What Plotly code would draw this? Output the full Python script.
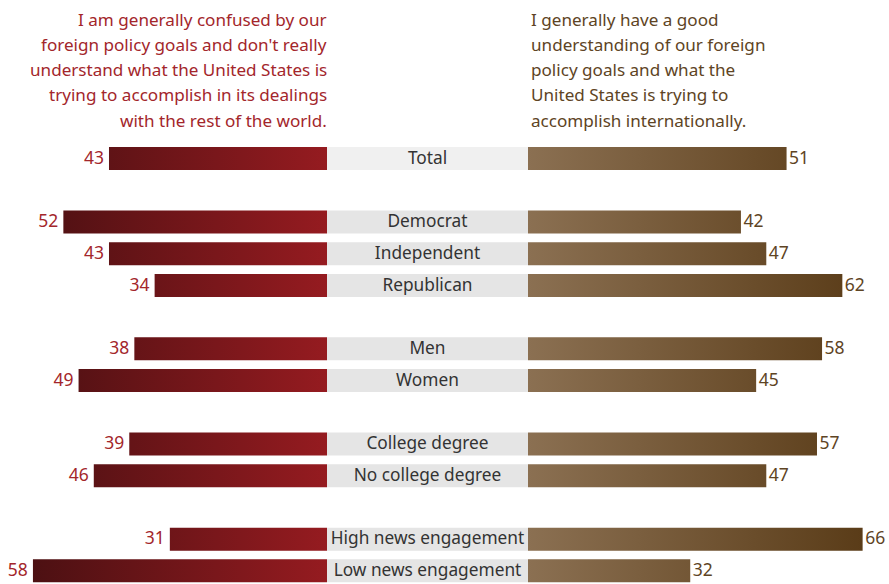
import plotly.graph_objects as go

categories = ["Total", "Democrat", "Independent", "Republican", "Men", "Women",
              "College degree", "No college degree", "High news engagement", "Low news engagement"]
confused = [43, 52, 43, 34, 38, 49, 39, 46, 31, 58]
understand = [51, 42, 47, 62, 58, 45, 57, 47, 66, 32]
row_pos = [0, 2, 3, 4, 6, 7, 9, 10, 12, 13]

left_title_lines = ["I am generally confused by our",
                    "foreign policy goals and don't really",
                    "understand what the United States is",
                    "trying to accomplish in its dealings",
                    "with the rest of the world."]
right_title_lines = ["I generally have a good",
                     "understanding of our foreign",
                     "policy goals and what the",
                     "United States is trying to",
                     "accomplish internationally."]

W, H = 889, 584
PXU = 5.07           # pixels per percentage point
CX = 427.5           # x of the centre of the label column
GAP = 201 / PXU      # width of centre label column in data units
PITCH = 31.72        # pixels per row
Y0 = 158.5           # y of first row centre
BH = 23 / PITCH      # bar height in row units
G2 = GAP / 2

RED = "#a3262b"
BROWN = "#5e4424"
FONT = "Noto Sans"

fig = go.Figure()


def polys(starts, ends, rows):
    xs, ys = [], []
    for x0, x1, r in zip(starts, ends, rows):
        xs += [x0, x1, x1, x0, x0, None]
        ys += [r - BH / 2, r - BH / 2, r + BH / 2, r + BH / 2, r - BH / 2, None]
    return xs, ys


# centre label boxes (Total lighter)
tx, ty = polys([-G2], [G2], row_pos[:1])
ox, oy = polys([-G2] * (len(categories) - 1), [G2] * (len(categories) - 1), row_pos[1:])
fig.add_trace(go.Scatter(x=tx, y=ty, fill="toself", mode="none", fillcolor="#f0f0f0",
                         hoverinfo="skip", showlegend=False))
fig.add_trace(go.Scatter(x=ox, y=oy, fill="toself", mode="none", fillcolor="#e5e5e5",
                         hoverinfo="skip", showlegend=False))

# left bars
lx, ly = polys([-G2 - v for v in confused], [-G2] * len(confused), row_pos)
fig.add_trace(go.Scatter(
    x=lx, y=ly, fill="toself", mode="none", showlegend=False, hoverinfo="skip",
    fillgradient=dict(type="horizontal", start=-G2 - 60, stop=-G2,
                      colorscale=[[0, "#4a1012"], [1, "#951b20"]])))
# right bars
rx, ry = polys([G2] * len(understand), [G2 + v for v in understand], row_pos)
fig.add_trace(go.Scatter(
    x=rx, y=ry, fill="toself", mode="none", showlegend=False, hoverinfo="skip",
    fillgradient=dict(type="horizontal", start=G2, stop=G2 + 66,
                      colorscale=[[0, "#8b7052"], [1, "#5a3c18"]])))

TY = 0.03  # small downward nudge so text sits centred on the bars
# value labels
fig.add_trace(go.Scatter(
    x=[-G2 - v - 1.0 for v in confused], y=[r + TY for r in row_pos], mode="text",
    text=[str(v) for v in confused], textposition="middle left", cliponaxis=False,
    textfont=dict(family=FONT, size=17.5, color=RED), showlegend=False, hoverinfo="skip"))
fig.add_trace(go.Scatter(
    x=[G2 + v + 0.5 for v in understand], y=[r + TY for r in row_pos], mode="text",
    text=[str(v) for v in understand], textposition="middle right", cliponaxis=False,
    textfont=dict(family=FONT, size=17.5, color=BROWN), showlegend=False, hoverinfo="skip"))
# category labels
fig.add_trace(go.Scatter(
    x=[0] * len(categories), y=[r + TY for r in row_pos], mode="text", text=categories,
    textposition="middle center", cliponaxis=False,
    textfont=dict(family=FONT, size=17.3, color="#333333"), showlegend=False, hoverinfo="skip"))

# header texts, one annotation per line
line_px = [19.0, 44.3, 69.5, 94.8, 120.0]
for txt, py in zip(left_title_lines, line_px):
    fig.add_annotation(x=-G2 + 0.3, y=(py - Y0) / PITCH, xref="x", yref="y", text=txt,
                       showarrow=False, xanchor="right", yanchor="middle", align="right",
                       font=dict(family=FONT, size=17.1, color=RED))
for txt, py in zip(right_title_lines, line_px):
    fig.add_annotation(x=G2 + 0.1, y=(py - Y0) / PITCH, xref="x", yref="y", text=txt,
                       showarrow=False, xanchor="left", yanchor="middle", align="left",
                       font=dict(family=FONT, size=17.1, color=BROWN))

x_left = (0 - CX) / PXU
x_right = (W - CX) / PXU
y_top = (0 - Y0) / PITCH
y_bot = 13 + (H - (Y0 + 13 * PITCH)) / PITCH

fig.update_layout(
    width=W, height=H, margin=dict(l=0, r=0, t=0, b=0),
    paper_bgcolor="white", plot_bgcolor="white",
    xaxis=dict(range=[x_left, x_right], visible=False, fixedrange=True),
    yaxis=dict(range=[y_bot, y_top], visible=False, fixedrange=True),
    showlegend=False,
)

fig.write_html("out.html", config={"displayModeBar": False},
               post_script="document.body.style.margin='0';document.body.style.overflow='hidden';")
